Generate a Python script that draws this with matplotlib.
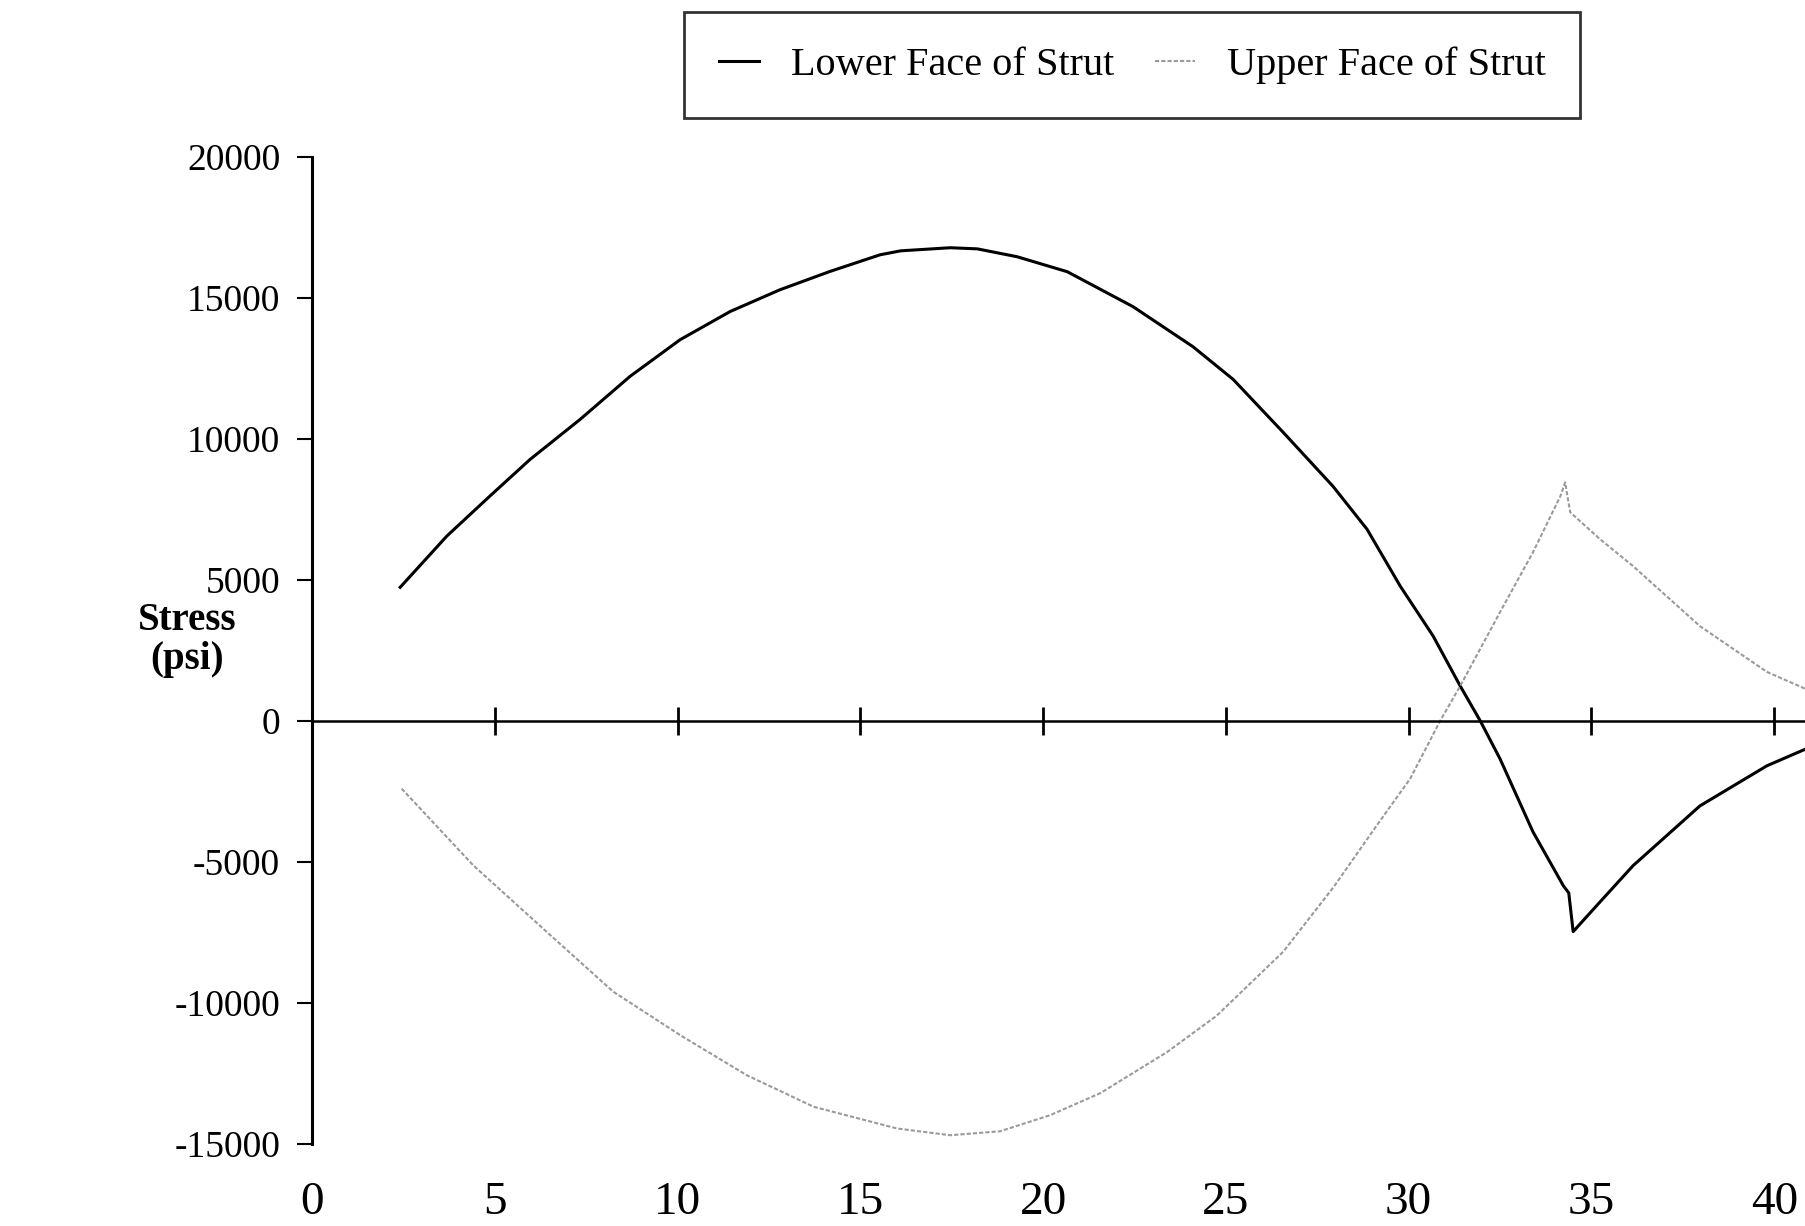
import matplotlib
matplotlib.use("Agg")
import matplotlib.pyplot as plt

plt.rcParams['font.family'] = ['Liberation Serif', 'DejaVu Serif']
plt.rcParams['axes.unicode_minus'] = False

# distance along strut and stress on the two faces
lower_x = [2.41, 3.69, 4.87, 5.96, 7.33, 8.7, 10.07, 11.44, 12.8, 14.17, 15.54,
           16.1, 17.46, 18.2, 19.29, 20.66, 22.46, 24.1, 25.2, 26.57, 27.93,
           28.86, 29.77, 30.67, 31.41, 31.96, 32.5, 33.4, 34.23, 34.38, 34.5,
           35.24, 36.14, 37.97, 39.8, 40.87]
lower_y = [4740, 6560, 7980, 9270, 10690, 12220, 13520, 14520, 15290, 15940, 16530,
           16670, 16780, 16740, 16460, 15930, 14690, 13270, 12110, 10230, 8320,
           6800, 4780, 3010, 1240, 0, -1345, -3930, -5840, -6100, -7470,
           -6410, -5130, -3010, -1590, -990]

upper_x = [2.45, 4.41, 6.42, 8.24, 10.07, 11.89, 13.72, 16.0, 17.46, 18.82, 20.19,
           21.56, 23.38, 24.75, 26.57, 27.94, 29.13, 30.04, 30.86, 31.41, 32.5,
           33.4, 34.15, 34.28, 34.42, 35.24, 36.14, 37.97, 39.8, 40.87]
upper_y = [-2400, -5120, -7480, -9600, -11140, -12560, -13680, -14450, -14690, -14550, -13980,
           -13200, -11750, -10450, -8180, -5900, -3700, -2050, 0, 1240, 3860,
           5980, 7970, 8460, 7400, 6440, 5490, 3360, 1740, 1130]

x_ticks = [0, 5, 10, 15, 20, 25, 30, 35, 40]
y_ticks = [-15000, -10000, -5000, 0, 5000, 10000, 15000, 20000]

fig = plt.figure(figsize=(18.06, 12.26), dpi=100)
ax = fig.add_axes([0.1728, 0.0669, 0.8272, 0.8051])

ax.plot(lower_x, lower_y, color='black', lw=2.2, label='Lower Face of Strut')
ax.plot(upper_x, upper_y, color='#9a9a9a', lw=1.5, linestyle=(0, (2, 1)),
        label='Upper Face of Strut')

ax.set_xlim(0, 40.87)
ax.set_ylim(-15000, 20000)

for s in ['top', 'right']:
    ax.spines[s].set_visible(False)
ax.spines['bottom'].set_position(('data', 0))
ax.spines['bottom'].set_linewidth(1.8)
ax.spines['left'].set_linewidth(2.2)

ax.set_xticks(x_ticks)
ax.tick_params(axis='x', direction='inout', length=20, width=2, labelbottom=False)
ax.set_yticks(y_ticks)
ax.tick_params(axis='y', direction='out', length=11, width=1.5, pad=12, labelsize=27)

# x labels sit at the foot of the chart, not on the zero line
sec = ax.secondary_xaxis('bottom')
sec.spines['bottom'].set_visible(False)
sec.set_xticks(x_ticks)
sec.tick_params(length=0, pad=27, labelsize=34)

fig.text(0.1035, 0.478, 'Stress\n(psi)', ha='center', va='center',
         fontsize=28, fontweight='bold', linespacing=1.1)

leg = fig.legend(loc='center', bbox_to_anchor=(0.627, 0.947), ncol=2, fontsize=29,
                 frameon=True, fancybox=False, edgecolor='black', handlelength=1.0,
                 handletextpad=0.8, columnspacing=1.0, borderpad=0.85)
leg.get_frame().set_linewidth(2)

fig.savefig('out.png', dpi=100)
